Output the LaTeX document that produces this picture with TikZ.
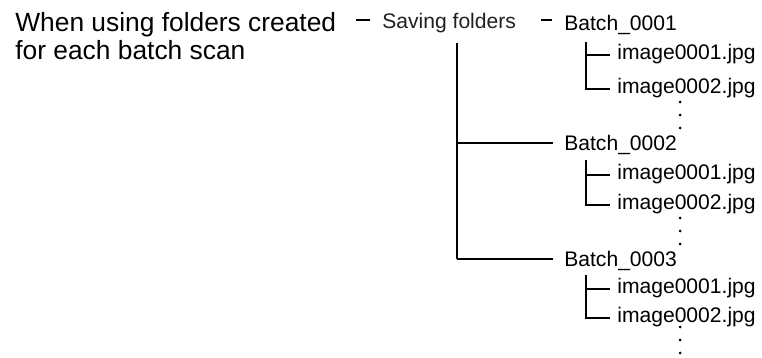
\documentclass[tikz,border=0pt]{standalone}
\usepackage{fontspec}
\setmainfont{Liberation Sans}
\usetikzlibrary{positioning}
\definecolor{fdink}{HTML}{231F20}
\tikzset{
  fdline/.style  ={draw=black, line width=1.1pt},
  fddash/.style  ={draw=black, line width=1pt},
  fdhead/.style  ={font=\fontsize{15}{18}\selectfont, inner sep=0pt, anchor=base west},
  fdfolder/.style={font=\fontsize{12}{14}\selectfont, inner sep=0pt, anchor=base west},
  fdfile/.style  ={fdfolder},
  fdleaf/.style  ={fdline, shorten >=4pt},
}

\begin{document}
\begin{tikzpicture}[x=0.02cm, y=-0.02cm]
  \useasboundingbox (0,0) rectangle (762,358);
  % heading and first level
  \node[fdhead] (head1) at (15,32) {When using folders created};
  \node[fdhead] (head2) at (15,60) {for each batch scan};
  \node[fdfolder, text=fdink] (save) at (382,29) {Saving folders};
  \node[fdfolder] (batch1) at (564,31) {Batch\_0001};
  \node[fdfolder] (batch2) at (564,151) {Batch\_0002};
  \node[fdfolder] (batch3) at (564,267) {Batch\_0003};
  \coordinate (d1a) at (356,20); \coordinate (d1b) at (370,20);
  \coordinate (d2a) at (541,20); \coordinate (d2b) at (552,20);
  \draw[fddash] (d1a) -- (d1b);
  \draw[fddash] (d2a) -- (d2b);
  % trunk under the saving folder
  \coordinate (trunk) at (457,43);
  \coordinate (j2) at (457,143);
  \coordinate (j3) at (457,259);
  \draw[fdline] (trunk) -- (j3);
  \draw[fdline, shorten >=6pt] (j2) -- (j2 -| batch2.west);
  \draw[fdline, shorten >=6pt] (j3) -- (j3 -| batch3.west);
  % files of each batch
  \node[fdfile] (img11) at (617,60) {image0001.jpg};
  \node[fdfile] (img12) at (617,94) {image0002.jpg};
  \node[fdfile] (img21) at (617,180) {image0001.jpg};
  \node[fdfile] (img22) at (617,210) {image0002.jpg};
  \node[fdfile] (img31) at (617,294) {image0001.jpg};
  \node[fdfile] (img32) at (617,323) {image0002.jpg};
  \coordinate (br1) at (586,42);
  \coordinate (br2) at (586,160);
  \coordinate (br3) at (586,275);
  \foreach \g in {1,2,3}{
    \draw[fdleaf] (br\g) |- (img\g2.west);
    \draw[fdleaf] (img\g1.west -| br\g) -- (img\g1.west);
  }
  % continuation dots
  \foreach \y in {102,218,327}{
    \foreach \d in {0,13,26}{\fill (680,\y+\d) circle (1.5);}
  }
\end{tikzpicture}
\end{document}
